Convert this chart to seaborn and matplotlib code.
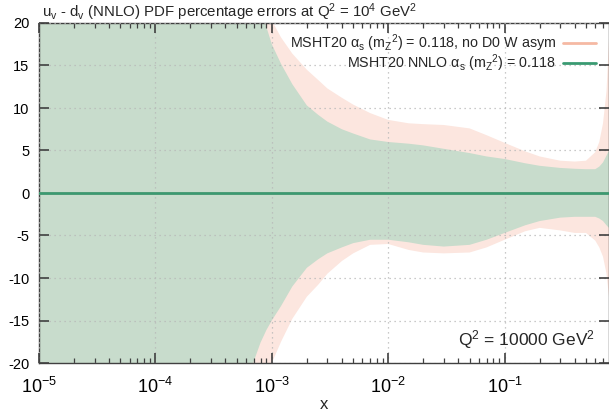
import numpy as np
import pandas as pd
import matplotlib
matplotlib.use("Agg")
import matplotlib.pyplot as plt
from matplotlib.lines import Line2D
from matplotlib.ticker import LogLocator, NullFormatter, MultipleLocator
import seaborn as sns

# x grid and percentage error bands for u_v - d_v at Q^2 = 10^4 GeV^2
x_vals = [1e-5, 1e-4, 3e-4, 5e-4, 6e-4, 7e-4, 8e-4, 9e-4, 1e-3, 1.2e-3, 1.5e-3,
          2e-3, 2.5e-3, 3e-3, 4e-3, 5e-3, 7e-3, 1e-2, 1.5e-2, 2e-2, 3e-2, 5e-2,
          7e-2, 0.1, 0.15, 0.2, 0.3, 0.4, 0.5, 0.6, 0.65, 0.7, 0.75, 0.8, 0.85]

# MSHT20 NNLO, alpha_s = 0.118
nnlo_up = [45, 40, 34, 29, 26.5, 24, 21.5, 19.5, 17.5, 15.2, 12.8, 10.3, 9.2, 8.4,
           7.5, 7.0, 6.3, 6.0, 5.8, 5.6, 5.2, 4.7, 4.3, 4.0, 3.5, 3.2, 2.95, 2.85,
           2.8, 2.8, 3.1, 3.6, 4.4, 5.2, 6.0]
nnlo_dn = [-50, -42, -32, -25, -22.5, -19.8, -17.6, -16.1, -15.0, -13.3, -11.0,
           -8.8, -7.8, -7.1, -6.4, -5.9, -5.5, -5.5, -5.8, -6.1, -6.3, -6.1, -5.5,
           -4.7, -3.8, -3.3, -2.9, -2.8, -2.8, -2.8, -3.0, -3.3, -3.8, -4.2, -4.5]

# MSHT20 without D0 W asymmetry
nod0_up = [60, 50, 40, 32, 29.5, 27, 24.5, 22, 20.3, 18.3, 16.4, 14.5, 13.3, 12.3,
           11.2, 10.4, 9.4, 8.6, 8.2, 8.1, 8.0, 7.6, 6.8, 5.9, 4.9, 4.3, 3.8, 3.7,
           3.8, 4.8, 6.0, 8.2, 12.0, 20, 28]
nod0_dn = [-60, -50, -40, -31, -28.5, -26, -23.5, -21.5, -20, -17.5, -14.8, -12.2,
           -10.8, -9.5, -8.0, -7.1, -6.1, -6.0, -6.7, -7.0, -7.1, -7.0, -6.4, -5.5,
           -4.5, -4.1, -4.4, -4.7, -4.7, -5.6, -6.4, -7.5, -9.5, -13, -17]

label_nod0 = r"MSHT20 $\alpha_s$ (${m_Z}^2$) = 0.118, no D0 W asym"
label_nnlo = r"MSHT20 NNLO $\alpha_s$ (${m_Z}^2$) = 0.118"
title = r"$u_v$ - $d_v$ (NNLO) PDF percentage errors at $Q^2$ = $10^4$ GeV$^2$"
q2_note = r"$Q^2$ = 10000 GeV$^2$"

df = pd.DataFrame({"x": x_vals, "nnlo_up": nnlo_up, "nnlo_dn": nnlo_dn,
                   "nod0_up": nod0_up, "nod0_dn": nod0_dn})
df["central"] = 0.0

axis_col = "#404040"

sns.set_theme(style="ticks", rc={
    "axes.axisbelow": False,
    "xtick.direction": "in", "ytick.direction": "in",
    "xtick.top": True, "xtick.bottom": True,
    "ytick.left": True, "ytick.right": True,
    "xtick.major.size": 7, "ytick.major.size": 7,
    "xtick.minor.size": 3.5, "ytick.minor.size": 3.5,
    "xtick.major.width": 1.2, "ytick.major.width": 1.2,
    "xtick.minor.width": 0.9, "ytick.minor.width": 0.9,
    "xtick.color": axis_col, "ytick.color": axis_col,
    "xtick.labelcolor": "black", "ytick.labelcolor": "black",
})
plt.rcParams["font.family"] = ["Liberation Sans", "DejaVu Sans"]
plt.rcParams["mathtext.fontset"] = "custom"
plt.rcParams["mathtext.rm"] = "Liberation Sans"
plt.rcParams["mathtext.it"] = "Liberation Sans:italic"
plt.rcParams["mathtext.default"] = "regular"
plt.rcParams["axes.unicode_minus"] = False

pink_fill = "#fce6df"
pink_line = "#f5b9a3"
green_fill = "#c8dccc"
green_line = "#3a9a72"

fig = plt.figure(figsize=(6.09, 4.11), dpi=100)
ax = fig.add_axes([39 / 609, 48 / 411, 569.5 / 609, 340 / 411])

ax.fill_between(df["x"], df["nod0_dn"], df["nod0_up"], color=pink_fill, lw=0, zorder=1)
ax.fill_between(df["x"], df["nnlo_dn"], df["nnlo_up"], color=green_fill, lw=0, zorder=1.1)
sns.lineplot(data=df, x="x", y="central", ax=ax, color=pink_line, lw=2, zorder=4)
sns.lineplot(data=df, x="x", y="central", ax=ax, color=green_line, lw=2, zorder=5)

ax.set_xscale("log")
ax.set_xlim(1e-5, 0.78)
ax.set_ylim(-20, 20)
ax.yaxis.set_major_locator(MultipleLocator(5))
ax.xaxis.set_major_locator(LogLocator(base=10, numticks=10))
ax.xaxis.set_minor_locator(LogLocator(base=10, subs=np.arange(2, 10), numticks=20))
ax.xaxis.set_minor_formatter(NullFormatter())

ax.grid(True, which="major", color="#b8b8b8", ls=(0, (1, 3)), lw=0.9)

for s in ax.spines.values():
    s.set_color(axis_col)
    s.set_linewidth(1.0)

ax.tick_params(axis="x", which="major", labelsize=13, pad=10)
ax.tick_params(axis="y", which="major", labelsize=10.5, pad=7)

ax.set_xlabel("x", fontsize=12, labelpad=0)
ax.set_ylabel("")
ax.set_title(title, fontsize=10.8, loc="left", pad=4, x=0.005)

handles = [Line2D([], [], color=pink_line, lw=2),
           Line2D([], [], color=green_line, lw=2)]
ax.legend(handles, [label_nod0, label_nnlo], loc="upper right",
          bbox_to_anchor=((596 - 39) / 569.5, (363 - 32) / 340),
          frameon=False, markerfirst=False, fontsize=10.3, handlelength=2.3,
          handletextpad=0.5, labelspacing=-0.05, borderpad=0, borderaxespad=0)

ax.text((595 - 39) / 569.5, (363 - 340) / 340, q2_note, transform=ax.transAxes,
        ha="right", va="center", fontsize=12.5, zorder=7)

fig.savefig("out.png", dpi=100)
